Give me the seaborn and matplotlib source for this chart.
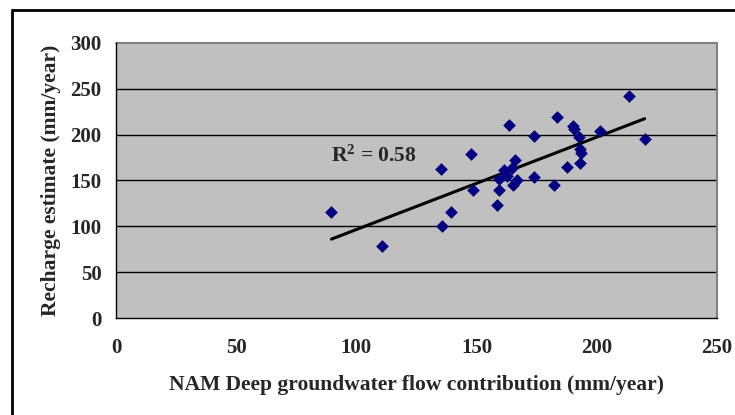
import numpy as np
import pandas as pd
import matplotlib
matplotlib.use("Agg")
import matplotlib.pyplot as plt
import seaborn as sns
from matplotlib.lines import Line2D

# NAM deep groundwater flow vs recharge estimate (mm/year)
nam_flow = [89.6, 110.6, 135.1, 135.6, 139.5, 147.8, 148.4, 158.6, 159.2, 159.4,
            161.4, 162.5, 164.7, 165.8, 165.3, 166.9, 163.6, 174.0, 174.0, 183.6,
            182.2, 187.5, 190.0, 190.5, 192.5, 193.0, 193.3, 193.0, 201.3, 213.5,
            219.9]
recharge = [116, 78, 163, 100, 116, 179, 140, 123, 140, 152,
            161, 155, 164, 172, 145, 150, 210.5, 198.5, 153.5, 219,
            145, 165, 209, 206, 197, 184, 180, 169, 204, 242.5,
            195]

df = pd.DataFrame({"nam": nam_flow, "recharge": recharge})

sns.set_style("white")
plt.rcParams['font.family'] = ['Liberation Serif', 'DejaVu Serif']
plt.rcParams['font.weight'] = 'bold'
plt.rcParams['mathtext.fontset'] = 'custom'
plt.rcParams['mathtext.rm'] = 'Liberation Serif:bold'
plt.rcParams['mathtext.bf'] = 'Liberation Serif:bold'

fig = plt.figure(figsize=(7.35, 4.15), dpi=100)
ax = fig.add_axes([116/735, 1 - 318/415, (717 - 116)/735, (318 - 43)/415])
ax.set_facecolor('#c0c0c0')

# horizontal gridlines
for yv in range(50, 300, 50):
    ax.axhline(yv, color='black', lw=1, zorder=1)

sns.regplot(data=df, x='nam', y='recharge', ax=ax, scatter=False, ci=None,
            truncate=True, line_kws={'color': 'black', 'lw': 2.2, 'zorder': 3})
sns.scatterplot(data=df, x='nam', y='recharge', ax=ax, marker='D', s=42,
                color='#000080', edgecolor='#000080', linewidth=0, zorder=4)

ax.text(89.5, 176, r"$\mathbf{R^2}$ = 0.58", fontsize=15.5, fontweight='bold',
        va='center', ha='left')

ax.set_xlim(0, 250)
ax.set_ylim(0, 300)
ax.set_xticks(range(0, 251, 50))
ax.set_yticks(range(0, 301, 50))
ax.tick_params(axis='both', direction='out', length=4.3, width=1, color='black',
               labelsize=15)
ax.tick_params(axis='x', pad=10)
ax.tick_params(axis='y', pad=6)
for lab in ax.get_xticklabels() + ax.get_yticklabels():
    lab.set_fontweight('bold')

ax.set_xlabel("NAM Deep groundwater flow contribution (mm/year)", fontsize=15.5,
              fontweight='bold', labelpad=12)
ax.set_ylabel("Recharge estimate (mm/year)", fontsize=15.5, fontweight='bold',
              labelpad=7)

for side in ['left', 'bottom']:
    ax.spines[side].set_color('black')
    ax.spines[side].set_linewidth(1)
ax.spines['right'].set_color('#808080')
ax.spines['right'].set_linewidth(1.5)
ax.spines['top'].set_visible(False)
ax.axhline(300, color='#808080', lw=1.5, zorder=1, clip_on=False)

# outer frame (top and left only visible in the crop)
fig.add_artist(Line2D([11.5/735, 1], [1 - 10/415, 1 - 10/415], color='black', lw=2))
fig.add_artist(Line2D([11.5/735, 11.5/735], [0, 1 - 10/415], color='black', lw=2))

fig.savefig("out.png", dpi=100)
